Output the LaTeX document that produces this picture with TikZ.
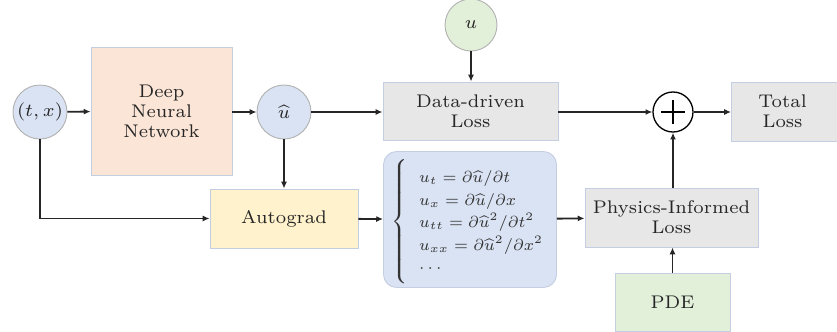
\documentclass[tikz,border=0pt]{standalone}
\usepackage{amsmath}
\usepackage{graphicx}
\usetikzlibrary{arrows.meta}
\definecolor{peach}{RGB}{251,229,214}
\definecolor{lblue}{RGB}{218,227,243}
\definecolor{lgreen}{RGB}{226,240,217}
\definecolor{lyellow}{RGB}{255,242,204}
\definecolor{lgray}{RGB}{231,231,231}
\definecolor{edge}{RGB}{196,206,226}
\def\S{0.382}
\begin{document}
\begin{tikzpicture}[x=\S pt,y=-\S pt,
  font=\fontsize{7}{7.64}\selectfont,
  box/.style={draw=edge,line width=0.35pt,align=center,inner sep=0pt,text=black!85},
  circ/.style={circle,draw=gray!60,line width=0.35pt,fill=lblue,inner sep=0pt,minimum size={#1*\S pt},text=black!85},
  arr/.style={-{Latex[length=2.6pt,width=2.3pt]},line width=0.7pt,black!85}]
\useasboundingbox (0,0) rectangle (837,332);
\node[circ=54] (tx) at (40,112) {$(t,x)$};
\node[box,fill=peach,minimum width={141*\S pt},minimum height={128*\S pt}] (dnn) at (161.5,111) {Deep\\Neural\\Network};
\node[circ=54] (uh) at (284,112) {$\widehat{u}$};
\node[circ=52,fill=lgreen] (u) at (471,25) {$u$};
\node[box,fill=lgray,minimum width={175*\S pt},minimum height={58*\S pt}] (ddl) at (470.5,111) {Data-driven\\Loss};
\node[circle,draw=black,line width=0.5pt,minimum size={40*\S pt},inner sep=0pt] (plus) at (673,112) {};
\draw[line width=0.5pt] ([xshift={-12*\S pt}]plus.center) -- ([xshift={12*\S pt}]plus.center);
\draw[line width=0.5pt] ([yshift={-12*\S pt}]plus.center) -- ([yshift={12*\S pt}]plus.center);
\node[box,fill=lgray,minimum width={110*\S pt},minimum height={59*\S pt},anchor=west] (tl) at (731,111.5) {\hspace*{-3pt}Total\\\hspace*{-3pt}Loss};
\node[box,fill=lyellow,minimum width={148*\S pt},minimum height={59*\S pt}] (ag) at (284,218.5) {Autograd};
\node[box,fill=lblue,rounded corners=5pt,minimum width={173*\S pt},minimum height={136*\S pt}] (eq) at (470,219.5) {};
\node[anchor=west,inner sep=0pt,text=black!80] (eqtext) at (391,220.5)
 {\scalebox{0.87}{$\left\{\vphantom{\rule{0pt}{30pt}}\hspace{5pt}\vcenter{\baselineskip=9.9pt\lineskiplimit=-\maxdimen\lineskip=0pt
 \hbox{$u_t=\partial\widehat{u}/\partial t$}
 \hbox{$u_x=\partial\widehat{u}/\partial x$}
 \hbox{$u_{tt}=\partial\widehat{u}^2/\partial t^2$}
 \hbox{$u_{xx}=\partial\widehat{u}^2/\partial x^2$}
 \hbox{$\cdots$}}\right.$}};
\node[box,fill=lgray,minimum width={173*\S pt},minimum height={59*\S pt}] (pil) at (671.5,217.5) {Physics-Informed\\Loss};
\node[box,fill=lgreen,minimum width={115*\S pt},minimum height={58*\S pt}] (pde) at (672.5,302) {PDE};
\draw[arr] (tx) -- (dnn);
\draw[arr] (dnn.east |- uh) -- (uh);
\draw[arr] (uh) -- (ddl.west |- uh);
\draw[arr] (u) -- (u |- ddl.north);
\draw[arr] (ddl.east |- plus) -- (plus);
\draw[arr] (plus) -- (tl.west |- plus);
\draw[arr] (tx.south) |- (ag.west);
\draw[arr] (uh) -- (ag);
\draw[arr] (ag) -- (eq);
\draw[arr] (eq) -- (pil);
\draw[arr] (pde) -- (pde |- pil.south);
\draw[arr] (pil.north -| plus) -- (plus);
\end{tikzpicture}
\end{document}
